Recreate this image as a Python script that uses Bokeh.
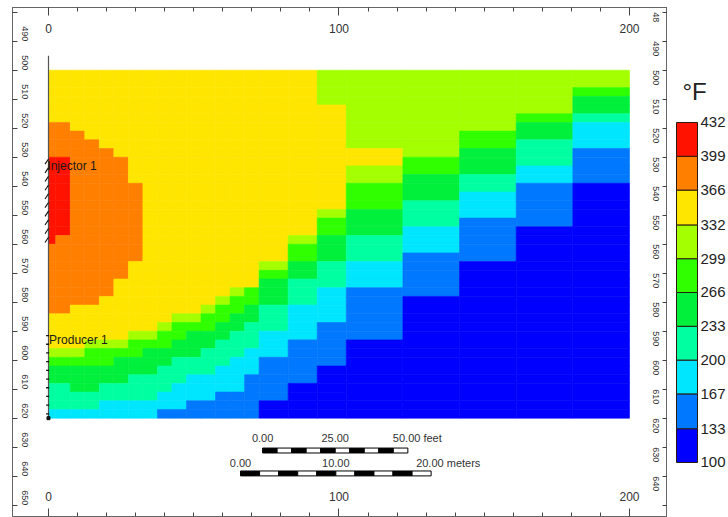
import math
from bokeh.plotting import figure
from bokeh.models import Range1d, LinearAxis, FixedTicker, LinearColorMapper, ColumnDataSource
from bokeh.layouts import row
from bokeh.embed import file_html
from bokeh.resources import INLINE
from bokeh.core.properties import value

# ---------------- data ----------------
# column edges of the simulation grid (feet along x)
X_EDGES = [0, 2.5, 7.5, 12.5, 17.5, 22.5, 27.5, 32.5, 37.5, 42.5, 47.5, 52.5,
           57.5, 62.5, 67.5, 72.5, 82.5, 92.5, 102.5, 122, 141.5, 161, 180.5, 200]
# row edges (depth, feet): 40 layers of 3 ft from 500 to 620
Y_EDGES = list(range(500, 621, 3))

# colour-bar levels (deg F) and colours
LEVELS = [100, 133, 167, 200, 233, 266, 299, 332, 366, 399, 432]
PALETTE = ["#0000FF", "#0078FF", "#00E6FF", "#00FFA0", "#00F03C",
           "#30FF00", "#A4FF00", "#FFE600", "#FF7F00", "#FF1200"]

# temperature class of each cell, column by column from the top: (class, number of layers)
COLUMN_RUNS = [
    [(7, 6), (8, 4), (9, 10), (8, 8), (7, 4), (6, 1), (5, 1), (4, 2), (3, 3), (2, 1)],
    [(7, 6), (8, 4), (9, 9), (8, 9), (7, 4), (6, 1), (5, 1), (4, 2), (3, 3), (2, 1)],
    [(7, 7), (8, 20), (7, 5), (6, 1), (5, 1), (4, 3), (3, 2), (2, 1)],
    [(7, 8), (8, 19), (7, 4), (6, 1), (5, 2), (4, 3), (3, 2), (2, 1)],
    [(7, 9), (8, 17), (7, 5), (6, 1), (5, 2), (4, 2), (3, 2), (2, 2)],
    [(7, 10), (8, 14), (7, 7), (6, 1), (5, 1), (4, 3), (3, 2), (2, 2)],
    [(7, 13), (8, 9), (7, 8), (6, 1), (5, 2), (4, 2), (3, 3), (2, 2)],
    [(7, 30), (6, 1), (5, 1), (4, 3), (3, 3), (2, 2)],
    [(7, 29), (6, 1), (5, 2), (4, 2), (3, 3), (2, 2), (1, 1)],
    [(7, 28), (6, 1), (5, 2), (4, 2), (3, 3), (2, 3), (1, 1)],
    [(7, 28), (6, 1), (5, 1), (4, 3), (3, 2), (2, 3), (1, 2)],
    [(7, 27), (6, 1), (5, 2), (4, 2), (3, 3), (2, 3), (1, 2)],
    [(7, 26), (6, 1), (5, 2), (4, 2), (3, 3), (2, 3), (1, 3)],
    [(7, 25), (6, 1), (5, 2), (4, 2), (3, 3), (2, 4), (1, 3)],
    [(7, 25), (5, 2), (4, 2), (3, 3), (2, 3), (1, 5)],
    [(7, 22), (6, 1), (5, 1), (4, 3), (3, 3), (2, 3), (1, 5), (0, 2)],
    [(7, 19), (6, 1), (5, 2), (4, 2), (3, 3), (2, 4), (1, 5), (0, 4)],
    [(6, 4), (7, 12), (6, 1), (5, 2), (4, 3), (3, 3), (2, 4), (1, 5), (0, 6)],
    [(6, 9), (7, 2), (6, 2), (5, 3), (4, 3), (3, 3), (2, 3), (1, 6), (0, 9)],
    [(6, 10), (5, 2), (4, 3), (3, 3), (2, 3), (1, 5), (0, 14)],
    [(6, 7), (5, 2), (4, 3), (3, 2), (2, 3), (1, 5), (0, 18)],
    [(6, 5), (5, 1), (4, 2), (3, 3), (2, 2), (1, 5), (0, 22)],
    [(6, 2), (5, 1), (4, 2), (3, 1), (2, 3), (1, 4), (0, 27)],
]

# wells: perforated layers (row indices) and label depths
INJECTOR_ROWS = list(range(10, 20))
PRODUCER_ROWS = list(range(30, 40))
WELL_TOP = 495
WELL_NAMES = ["Injector 1", "Producer 1"]
WELL_LABEL_DEPTH = [533.2, 593.0]

# axis ticks
X_MAJOR = [0, 100, 200]
X_MINOR = list(range(0, 201, 10))
Y_TICKS = list(range(480, 651, 10))

# scale bars
FEET_BAR = 50.0
METER_BAR = 20.0
FT_PER_M = 3.28084
FEET_LABELS = ["0.00", "25.00", "50.00 feet"]
METER_LABELS = ["0.00", "10.00", "20.00 meters"]
UNIT_TITLE = "°F"

FONT = "Liberation Sans"

# ---------------- build cells ----------------
left, right, top, bottom, temp = [], [], [], [], []
for ci, runs in enumerate(COLUMN_RUNS):
    r = 0
    for cls, n in runs:
        for _ in range(n):
            left.append(X_EDGES[ci]); right.append(X_EDGES[ci + 1])
            top.append(Y_EDGES[r]); bottom.append(Y_EDGES[r + 1])
            temp.append(0.5 * (LEVELS[cls] + LEVELS[cls + 1]))
            r += 1

mapper = LinearColorMapper(palette=PALETTE, low=LEVELS[0], high=LEVELS[-1])
cells = ColumnDataSource(dict(left=left, right=right, top=top, bottom=bottom, temp=temp))

p = figure(width=667, height=517,
           x_range=Range1d(-12.39, 213.08), y_range=Range1d(653.9, 478.38),
           output_backend="svg", toolbar_location=None,
           x_axis_location=None, y_axis_location=None,
           min_border_left=12, min_border_right=0, min_border_top=7, min_border_bottom=1)
p.grid.grid_line_color = None
p.outline_line_color = "#666666"
p.background_fill_color = "white"

p.quad(left="left", right="right", top="top", bottom="bottom", source=cells,
       fill_color={"field": "temp", "transform": mapper},
       line_color={"field": "temp", "transform": mapper}, line_width=0.6)


def style_axis(ax, size, standoff, orient):
    ax.axis_line_color = "#666666"
    ax.major_tick_line_color = "#444444"
    ax.minor_tick_line_color = "#444444"
    ax.major_tick_out = 0
    ax.minor_tick_out = 0
    ax.major_label_standoff = standoff
    ax.major_label_text_font = FONT
    ax.major_label_text_font_size = size
    ax.major_label_text_color = "#333333"
    ax.major_label_orientation = orient


for side, so in (("above", -25), ("below", -25)):
    ax = LinearAxis(ticker=FixedTicker(ticks=X_MAJOR, minor_ticks=X_MINOR))
    style_axis(ax, "12px", so, "horizontal")
    ax.major_tick_in = 8
    ax.minor_tick_in = 4
    p.add_layout(ax, side)

for side, so, over in (("left", -12, {480: ""}), ("right", -12, {480: "48", 650: ""})):
    ax = LinearAxis(ticker=FixedTicker(ticks=Y_TICKS))
    style_axis(ax, "9px", so, -math.pi / 2)
    ax.major_tick_in = 5
    ax.minor_tick_in = 0
    ax.major_label_overrides = over
    p.add_layout(ax, side)

# wells
p.segment(x0=[0], y0=[WELL_TOP], x1=[0], y1=[Y_EDGES[-1]], line_color="#555555", line_width=1.2)
inj_c = [0.5 * (Y_EDGES[i] + Y_EDGES[i + 1]) for i in INJECTOR_ROWS]
p.segment(x0=[-1.2] * len(inj_c), y0=[c + 0.9 for c in inj_c],
          x1=[0.0] * len(inj_c), y1=[c - 0.9 for c in inj_c], line_color="#111111", line_width=1.1)
prod_c = [0.5 * (Y_EDGES[i] + Y_EDGES[i + 1]) for i in PRODUCER_ROWS]
p.scatter(x=[-0.3] * len(prod_c), y=prod_c, marker="dash", size=3, line_color="#111111", line_width=1.3)
p.scatter(x=[0], y=[Y_EDGES[-1]], marker="square", size=3, fill_color="#111111", line_color="#111111")
p.text(x=[-0.4, 0.2], y=WELL_LABEL_DEPTH, text=WELL_NAMES, text_font=value(FONT),
       text_font_size="12px", text_color="#1a1a1a", text_baseline="middle", text_align="left")

# scale bars
def scale_bar(x0, length_ft, n, y_top, y_bot, labels, y_lab):
    seg = length_ft / n
    lefts = [x0 + i * seg for i in range(n)]
    rights = [x0 + (i + 1) * seg for i in range(n)]
    cols = ["#000000" if i % 2 == 0 else "#FFFFFF" for i in range(n)]
    p.quad(left=lefts, right=rights, top=[y_top] * n, bottom=[y_bot] * n,
           fill_color=cols, line_color="#000000", line_width=1)
    p.text(x=[x0, x0 + length_ft / 2], y=[y_lab] * 2, text=labels[:2], text_font=value(FONT),
           text_font_size="11px", text_color="#333333", text_align="center", text_baseline="middle")
    p.text(x=[x0 + length_ft], y=[y_lab], text=[labels[2]], text_font=value(FONT),
           text_font_size="11px", text_color="#333333", text_align="left", text_baseline="middle",
           x_offset=-15)

scale_bar(73.7, FEET_BAR, 10, 630.3, 632.0, FEET_LABELS, 627.0)
scale_bar(66.1, METER_BAR * FT_PER_M, 10, 638.2, 639.9, METER_LABELS, 635.3)

# ---------------- colour bar (own panel, same frame height as the map) ----------------
cb = figure(width=61, height=517, x_range=Range1d(0, 61), y_range=Range1d(47.27, 544.29),
            output_backend="svg", toolbar_location=None,
            x_axis_location=None, y_axis_location=None,
            min_border_left=0, min_border_right=0, min_border_top=7, min_border_bottom=1)
cb.grid.grid_line_color = None
cb.outline_line_color = None
cb.quad(left=9, right=30, bottom=LEVELS[:-1], top=LEVELS[1:], fill_color=PALETTE,
        line_color="#2a1a10", line_width=1)
cax = LinearAxis(ticker=FixedTicker(ticks=LEVELS))
cax.axis_line_color = None
cax.major_tick_line_color = None
cax.minor_tick_line_color = None
cax.major_tick_in = 0
cax.major_tick_out = 0
cax.major_label_standoff = -28
cax.major_label_text_font = FONT
cax.major_label_text_font_size = "15px"
cax.major_label_text_color = "#222222"
cb.add_layout(cax, "right")
cb.text(x=[15], y=[462.3], text=[UNIT_TITLE], text_font=value(FONT), text_font_size="24px",
        text_color="#222222", text_align="left", text_baseline="middle")

layout = row(p, cb)
open("out.html", "w").write(file_html(layout, INLINE))
